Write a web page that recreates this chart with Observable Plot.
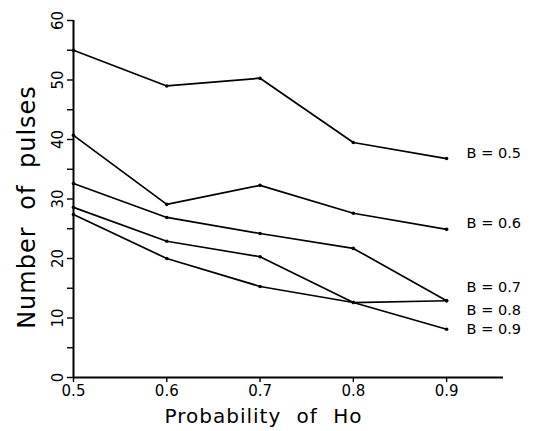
<!DOCTYPE html>
<html>
<head>
<meta charset="utf-8">
<script src="https://cdn.jsdelivr.net/npm/d3@7"></script>
<script src="https://cdn.jsdelivr.net/npm/@observablehq/plot@0.6"></script>
<style>
  html, body { margin: 0; padding: 0; background: #fff; }
</style>
</head>
<body>
<div id="chart"></div>
<script>
// Data
const probs = [0.5, 0.6, 0.7, 0.8, 0.9];
const seriesNames = ["B = 0.5", "B = 0.6", "B = 0.7", "B = 0.8", "B = 0.9"];
const b05 = [55.0, 49.0, 50.3, 39.5, 36.8];
const b06 = [40.7, 29.1, 32.3, 27.6, 24.9];
const b07 = [32.6, 26.9, 24.2, 21.7, 12.9];
const b08 = [28.6, 22.9, 20.3, 12.6, 12.9];
const b09 = [27.4, 20.0, 15.3, 12.6, 8.1];
const labelY = [37.6, 25.9, 15.2, 11.3, 8.1];
const yTicks = [0, 5, 10, 15, 20, 25, 30, 35, 40, 45, 50, 55, 60];
const xTicks = [0.5, 0.6, 0.7, 0.8, 0.9];
const xTitle = "Probability of Ho";
const yTitle = "Number of pulses";

const allSeries = [b05, b06, b07, b08, b09];
const rows = [];
allSeries.forEach((vals, i) => vals.forEach((v, j) => rows.push({b: seriesNames[i], p: probs[j], v})));
const labels = seriesNames.map((name, i) => ({name, p: probs[probs.length - 1], v: labelY[i]}));

const svg = Plot.plot({
  width: 540,
  height: 431,
  marginLeft: 73,
  marginRight: 37,
  marginTop: 20,
  marginBottom: 54,
  style: {fontFamily: "'DejaVu Sans', sans-serif", color: "#000", background: "#fff", overflow: "visible"},
  x: {domain: [0.5, 0.961]},
  y: {domain: [0, 60]},
  marks: [
    Plot.axisY({ticks: yTicks, tickSize: 6, tickFormat: d => d % 10 === 0 ? String(d) : "", tickRotate: -90, tickPadding: 5, fontSize: 15, label: null, strokeWidth: 1.4}),
    Plot.axisX({ticks: xTicks, tickSize: 5, tickFormat: d3.format(".1f"), tickPadding: 3, fontSize: 15, label: null, strokeWidth: 1.4}),
    Plot.ruleX([0.5], {strokeWidth: 2}),
    Plot.ruleY([0], {strokeWidth: 2}),
    Plot.line(rows, {x: "p", y: "v", z: "b", stroke: "#000", strokeWidth: 1.7}),
    Plot.dot(rows, {x: "p", y: "v", r: 1.8, fill: "#000"}),
    Plot.text(labels, {x: "p", y: "v", text: "name", dx: 20, textAnchor: "start", fontSize: 14.5, fill: "#000"}),
    Plot.text([xTitle], {frameAnchor: "bottom", dy: 39, dx: -25, textAnchor: "middle", lineAnchor: "middle", fontSize: 20, fill: "#000"}),
    Plot.text([yTitle], {frameAnchor: "left", dx: -46, dy: 8, rotate: -90, textAnchor: "middle", lineAnchor: "middle", fontSize: 24, fill: "#000"})
  ]
});

d3.select(svg).selectAll("text")
  .filter(function() { return this.textContent === xTitle || this.textContent === yTitle; })
  .style("letter-spacing", "1px")
  .style("word-spacing", "8px");

document.getElementById("chart").appendChild(svg);
</script>
</body>
</html>
